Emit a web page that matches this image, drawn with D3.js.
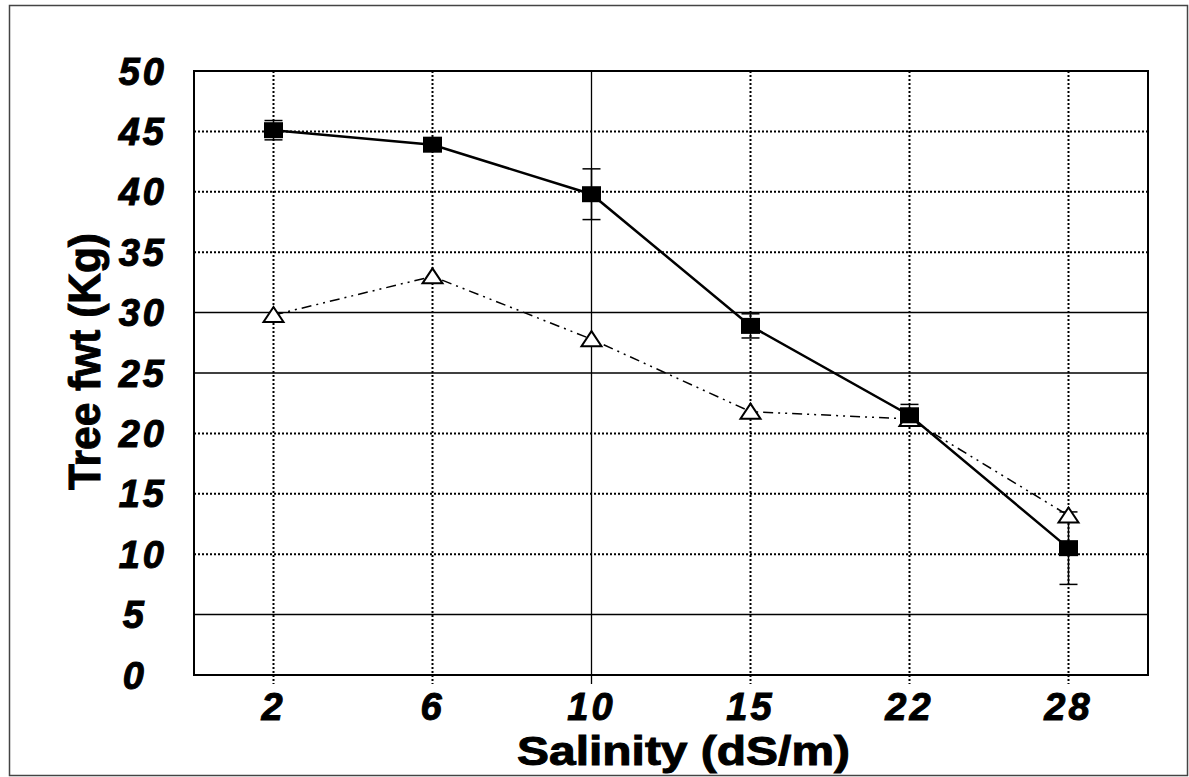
<!DOCTYPE html>
<html>
<head>
	<script type="text/javascript" src="https://cdn.jsdelivr.net/npm/d3@7"></script>
	<style>
		body { margin: 0; background: #fff; }
		text { font-family: "Liberation Sans", Arial, sans-serif; font-weight: bold; fill: #000; stroke: #000; stroke-width: 1px; }
	</style>
</head>
<body>
	<script type="text/javascript">

		// data
		var salinity = ["2", "6", "10", "15", "22", "28"];
		var squareVals = [45.1, 43.9, 39.8, 28.9, 21.5, 10.5];
		var squareErr = [0.8, 0.3, 2.1, 1.0, 0.9, 3.0];
		var triangleVals = [29.8, 33.0, 27.8, 21.8, 21.2, 13.2];
		var yTicks = [0, 5, 10, 15, 20, 25, 30, 35, 40, 45, 50];
		var solidRows = [5, 25, 30];   // rows printed as solid lines in the scan
		var solidCols = ["10"];

		var W = 1189, H = 777;
		var margin = {top: 71, left: 194, right: 41, bottom: 102};
		var width = W - margin.left - margin.right;
		var height = H - margin.top - margin.bottom;

		var svg = d3.select('body')
			.append('svg')
			.attr('width', W)
			.attr('height', H);

		// outer frame
		svg.append('rect')
			.attr('x', 9.5).attr('y', 5.5)
			.attr('width', 1178).attr('height', 770)
			.attr('fill', 'none')
			.attr('stroke', '#444')
			.attr('stroke-width', 1.5);

		var g = svg.append('g')
			.attr('transform', 'translate(' + margin.left + ',' + margin.top + ')');

		var xScale = d3.scalePoint()
			.domain(salinity)
			.range([0, width])
			.padding(0.5);

		var yScale = d3.scaleLinear()
			.domain([0, 50])
			.range([height, 0]);

		// horizontal grid
		g.selectAll('.hgrid')
			.data(yTicks.filter(function(d) { return d > 0 && d < 50; }))
			.enter()
			.append('line')
			.attr('x1', 0).attr('x2', width)
			.attr('y1', function(d) { return yScale(d); })
			.attr('y2', function(d) { return yScale(d); })
			.attr('stroke', '#000')
			.attr('stroke-width', function(d) { return solidRows.indexOf(d) >= 0 ? 1.5 : 2; })
			.attr('stroke-dasharray', function(d) { return solidRows.indexOf(d) >= 0 ? null : '2,2'; });

		// vertical grid (runs a little past the bottom like tick marks)
		g.selectAll('.vgrid')
			.data(salinity)
			.enter()
			.append('line')
			.attr('x1', function(d) { return xScale(d); })
			.attr('x2', function(d) { return xScale(d); })
			.attr('y1', 0).attr('y2', height + 9)
			.attr('stroke', '#000')
			.attr('stroke-width', function(d) { return solidCols.indexOf(d) >= 0 ? 1.3 : 2; })
			.attr('stroke-dasharray', function(d) { return solidCols.indexOf(d) >= 0 ? null : '2,2'; });

		// plot frame
		g.append('rect')
			.attr('width', width).attr('height', height)
			.attr('fill', 'none')
			.attr('stroke', '#000')
			.attr('stroke-width', 2);

		// y tick labels
		g.selectAll('.ylab')
			.data(yTicks)
			.enter()
			.append('text')
			.attr('x', function(d) { return d < 10 ? -47 : -27; })
			.attr('y', function(d) { return yScale(d); })
			.attr('dy', '0.36em')
			.attr('text-anchor', 'end')
			.style('font-size', '38px')
			.style('font-style', 'italic')
			.style('letter-spacing', '3px')
			.text(function(d) { return d; });

		// x tick labels
		g.selectAll('.xlab')
			.data(salinity)
			.enter()
			.append('text')
			.attr('x', function(d) { return xScale(d); })
			.attr('y', height + 45)
			.attr('text-anchor', 'middle')
			.style('font-size', '38px')
			.style('font-style', 'italic')
			.style('letter-spacing', '3px')
			.text(function(d) { return d; });

		// axis titles
		svg.append('text')
			.attr('x', 517).attr('y', 765)
			.attr('textLength', 333)
			.attr('lengthAdjust', 'spacingAndGlyphs')
			.style('font-size', '41px')
			.text('Salinity (dS/m)');

		svg.append('text')
			.attr('transform', 'translate(100,490) rotate(-90)')
			.attr('textLength', 257)
			.attr('lengthAdjust', 'spacingAndGlyphs')
			.style('font-size', '45px')
			.text('Tree fwt (Kg)');

		var line = d3.line()
			.x(function(d, i) { return xScale(salinity[i]); })
			.y(function(d) { return yScale(d); });

		// triangle series (dash-dot-dot)
		g.append('path')
			.datum(triangleVals)
			.attr('d', line)
			.attr('fill', 'none')
			.attr('stroke', '#000')
			.attr('stroke-width', 1.5)
			.attr('stroke-dasharray', '10,5,2,5,2,5');

		// square series
		g.append('path')
			.datum(squareVals)
			.attr('d', line)
			.attr('fill', 'none')
			.attr('stroke', '#000')
			.attr('stroke-width', 2.5);

		// error bars
		var cap = 9;
		var eb = g.selectAll('.err')
			.data(squareVals)
			.enter()
			.append('g')
			.attr('stroke', '#000')
			.attr('stroke-width', 1.5);
		eb.append('line')
			.attr('x1', function(d, i) { return xScale(salinity[i]); })
			.attr('x2', function(d, i) { return xScale(salinity[i]); })
			.attr('y1', function(d, i) { return yScale(d + squareErr[i]); })
			.attr('y2', function(d, i) { return yScale(d - squareErr[i]); });
		eb.append('line')
			.attr('x1', function(d, i) { return xScale(salinity[i]) - cap; })
			.attr('x2', function(d, i) { return xScale(salinity[i]) + cap; })
			.attr('y1', function(d, i) { return yScale(d + squareErr[i]); })
			.attr('y2', function(d, i) { return yScale(d + squareErr[i]); });
		eb.append('line')
			.attr('x1', function(d, i) { return xScale(salinity[i]) - cap; })
			.attr('x2', function(d, i) { return xScale(salinity[i]) + cap; })
			.attr('y1', function(d, i) { return yScale(d - squareErr[i]); })
			.attr('y2', function(d, i) { return yScale(d - squareErr[i]); });

		// open triangles
		g.selectAll('.tri')
			.data(triangleVals)
			.enter()
			.append('path')
			.attr('d', 'M0,-8L10,7L-10,7Z')
			.attr('transform', function(d, i) {
				return 'translate(' + xScale(salinity[i]) + ',' + yScale(d) + ')';
			})
			.attr('fill', '#fff')
			.attr('stroke', '#000')
			.attr('stroke-width', 2);

		// filled squares
		g.selectAll('.sq')
			.data(squareVals)
			.enter()
			.append('rect')
			.attr('x', function(d, i) { return xScale(salinity[i]) - 9.5; })
			.attr('y', function(d) { return yScale(d) - 8; })
			.attr('width', 19)
			.attr('height', 16)
			.attr('fill', '#000');

	</script>
</body>
</html>
